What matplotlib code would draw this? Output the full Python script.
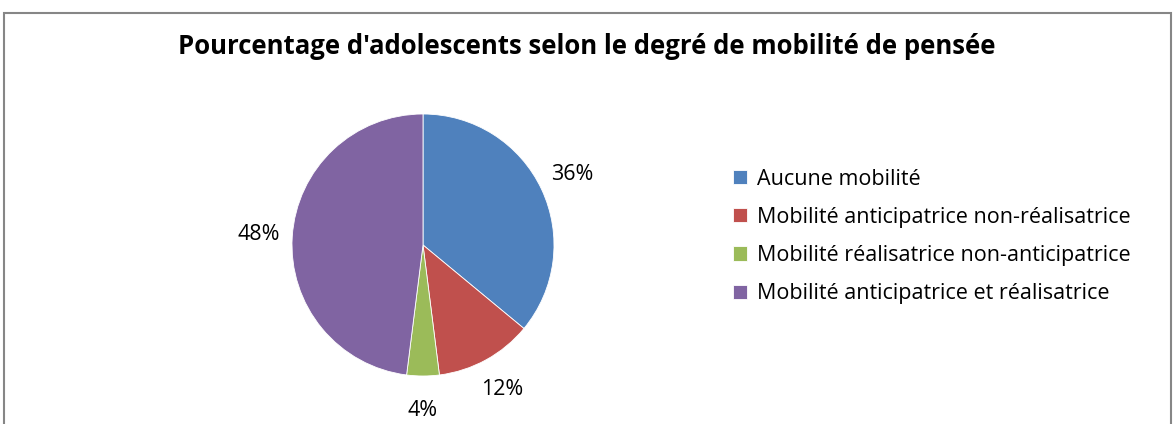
import matplotlib

matplotlib.use("Agg")
import matplotlib.pyplot as plt
from matplotlib.patches import Rectangle

plt.rcParams["font.family"] = ["Open Sans", "DejaVu Sans"]

title = "Pourcentage d'adolescents selon le degré de mobilité de pensée"
categories = [
    "Aucune mobilité",
    "Mobilité anticipatrice non-réalisatrice",
    "Mobilité réalisatrice non-anticipatrice",
    "Mobilité anticipatrice et réalisatrice",
]
values = [36, 12, 4, 48]
colors = ["#4F81BD", "#C0504D", "#9BBB59", "#8064A2"]

W, H = 1174, 424
fig = plt.figure(figsize=(W / 100, H / 100), dpi=100)
fig.patch.set_facecolor("white")

# chart frame (bottom edge runs off the image)
fig.patches.append(Rectangle((4 / W, -0.05), (1171 - 4) / W, (H - 13) / H + 0.05,
                             transform=fig.transFigure, fill=False,
                             edgecolor="#868686", linewidth=1.5))

# pie centred at (423, 245) px, radius 131 px
cx, cy, r = 423, 245, 131
ax = fig.add_axes([(cx - r) / W, (H - cy - r) / H, 2 * r / W, 2 * r / H])
wedges, texts = ax.pie(
    values, colors=colors, startangle=90, counterclock=False,
    labels=[f"{v}%" for v in values], labeldistance=1.26,
    textprops=dict(fontsize=15.5, color="black", ha="center", va="center"),
    wedgeprops=dict(linewidth=0.6, edgecolor="white"),
)
for t in texts:
    t.set_horizontalalignment("center")
ax.set_xlim(-1, 1)
ax.set_ylim(-1, 1)
ax.set_aspect("equal")

fig.text(587 / W, 1 - 47 / H, title, ha="center", va="center",
         fontsize=18.5, fontweight="bold", color="black")

fig.legend(wedges, categories, loc="upper left",
           bbox_to_anchor=(724 / W, 1 - 160 / H), frameon=False,
           fontsize=15.5, handlelength=0.65, handleheight=0.65,
           handletextpad=0.5, labelspacing=0.8, borderaxespad=0)

fig.savefig("out.png", dpi=100, facecolor="white")
